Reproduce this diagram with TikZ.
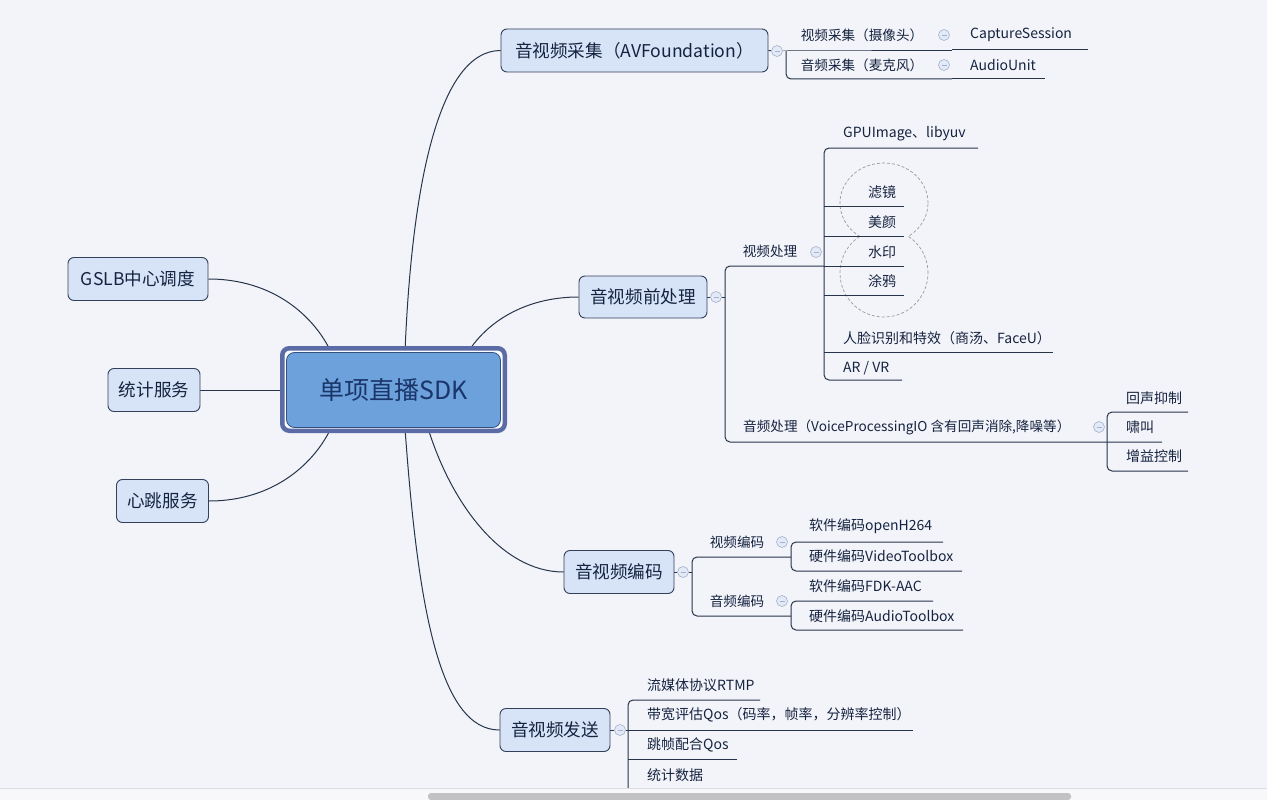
\documentclass[tikz,border=0pt]{standalone}
\usepackage{fontspec}
\setmainfont{Noto Sans CJK SC}
\definecolor{bg}{HTML}{F3F4F9}
\definecolor{boxfill}{HTML}{D7E3F7}
\definecolor{boxdraw}{HTML}{33405A}
\definecolor{txt}{HTML}{152340}
\definecolor{ctxt}{HTML}{1A356A}
\definecolor{linec}{HTML}{26354A}
\definecolor{btnfill}{HTML}{E3E9F6}
\definecolor{btndraw}{HTML}{A3B2CE}
\definecolor{cfill}{HTML}{6DA1DC}
\definecolor{cdraw}{HTML}{34507E}
\definecolor{cring}{HTML}{5B6BA6}
\definecolor{bound}{HTML}{9A9A9A}
\definecolor{strip}{HTML}{F8F8FA}
\definecolor{stripline}{HTML}{DDDDE3}
\definecolor{scroll}{HTML}{C2C2C4}
\pgfdeclarelayer{back}
\pgfsetlayers{back,main}
\begin{document}
\begin{tikzpicture}[x=1pt,y=-1pt,
 topic/.style={draw=boxdraw, fill=boxfill, rounded corners=6pt, line width=0.9pt, inner sep=0pt, text=txt, font=\fontsize{17.6}{20}\selectfont},
 subt/.style={inner sep=0pt, text=txt, font=\fontsize{13.6}{16}\selectfont},
 leaf/.style={inner sep=0pt, text=txt, font=\fontsize{14}{17}\selectfont, anchor=west},
 conn/.style={draw=linec, line width=1pt},
 brk/.style={draw=linec, line width=1pt, rounded corners=5pt},
 btn/.style={circle, draw=btndraw, fill=btnfill, line width=0.6pt, minimum size=11pt, inner sep=0pt,
   path picture={\draw[btndraw, line width=0.8pt] ([xshift=-2.5pt]path picture bounding box.center) -- ([xshift=2.5pt]path picture bounding box.center);}},
 boundary/.style={draw=bound, line width=0.7pt, dash pattern=on 3pt off 2pt},
]
\useasboundingbox (0,0) rectangle (1267,800);

% ---------- central node ----------
\node[draw=cring, line width=4.5pt, rounded corners=7pt, fill=white!60!bg, minimum width=222.5pt, minimum height=82.5pt, inner sep=0pt] (cring) at (393.5,389.5) {};
\node[draw=cdraw, fill=cfill, line width=0.8pt, rounded corners=8pt, minimum width=214pt, minimum height=75pt, inner sep=0pt, text=ctxt, font=\fontsize{25}{30}\selectfont] (c) at (393.5,390) {单项直播SDK};

% ---------- left topics ----------
\node[topic, minimum width=140pt, minimum height=43pt] (gslb) at (138,279) {GSLB中心调度};
\node[topic, minimum width=92pt, minimum height=43pt] (tj) at (154,390) {统计服务};
\node[topic, minimum width=92pt, minimum height=43pt] (xt) at (162.5,501) {心跳服务};

% ---------- right topics ----------
\node[topic, minimum width=267pt, minimum height=43pt] (cj) at (634.5,50.5) {音视频采集（AVFoundation）};
\node[topic, minimum width=128pt, minimum height=42pt] (qcl) at (643,297) {音视频前处理};
\node[topic, minimum width=110pt, minimum height=43pt] (bm) at (619,572) {音视频编码};
\node[topic, minimum width=110pt, minimum height=43pt] (fs) at (555,730) {音视频发送};

% ---------- buttons ----------
\node[btn] (bcj) at (777,51) {};
\node[btn] (bqcl) at (716,297) {};
\node[btn] (bbm) at (683,572) {};
\node[btn] (bfs) at (620,730) {};
\node[btn] (bsp) at (944,35) {};
\node[btn] (byp) at (944,65) {};
\node[btn] (bspcl) at (816,252) {};
\node[btn] (bypcl) at (1099,427) {};
\node[btn] (bspbm) at (782,542) {};
\node[btn] (bypbm) at (782,601) {};

% ---------- 采集 ----------
\node[subt] (sp) at (862,35) {视频采集（摄像头）};
\node[subt] (yp) at (862,65) {音频采集（麦克风）};
\node[leaf] (cs) at (970,35) {CaptureSession};
\node[leaf] (au) at (970,65) {AudioUnit};

% ---------- 前处理 ----------
\node[subt] (spcl) at (770,251) {视频处理};
\node[leaf] (gpu) at (843,134) {GPUImage、libyuv};
\node[leaf, anchor=center] (lj) at (882,192) {滤镜};
\node[leaf, anchor=center] (my) at (882,222) {美颜};
\node[leaf, anchor=center] (sy) at (882,252) {水印};
\node[leaf, anchor=center] (ty) at (882,281) {涂鸦};
\node[leaf] (rl) at (843,338) {人脸识别和特效（商汤、FaceU）};
\node[leaf] (ar) at (843,368) {AR / VR};
\node[subt, anchor=west] (ypcl) at (743,427) {音频处理（VoiceProcessingIO 含有回声消除,降噪等）};
\node[leaf] (hs) at (1126,398) {回声抑制};
\node[leaf] (xj) at (1126,427) {啸叫};
\node[leaf] (zy) at (1126,456) {增益控制};

% ---------- 编码 ----------
\node[subt] (spbm) at (737,542) {视频编码};
\node[subt] (ypbm) at (737,601) {音频编码};
\node[leaf] (rj1) at (809,526) {软件编码openH264};
\node[leaf] (yj1) at (809,556) {硬件编码VideoToolbox};
\node[leaf] (rj2) at (809,586) {软件编码FDK-AAC};
\node[leaf] (yj2) at (809,616) {硬件编码AudioToolbox};

% ---------- 发送 ----------
\node[leaf] (rtmp) at (647,685) {流媒体协议RTMP};
\node[leaf] (qos) at (647,715) {带宽评估Qos（码率，帧率，分辨率控制）};
\node[leaf] (tz) at (647,745) {跳帧配合Qos};
\node[leaf] (tjsj) at (647,775) {统计数据};

% ---------- lines (behind) ----------
\begin{pgfonlayer}{back}
\fill[bg] (0,0) rectangle (1267,800);
% boundary of 滤镜 .. 涂鸦
\begin{scope}[even odd rule]
\clip (780,100) rectangle (1000,400) (884,273) ellipse [x radius=44pt, y radius=44pt];
\draw[boundary] (884,203) ellipse [x radius=44pt, y radius=40pt];
\end{scope}
\begin{scope}[even odd rule]
\clip (780,100) rectangle (1000,400) (884,203) ellipse [x radius=44pt, y radius=40pt];
\draw[boundary] (884,273) ellipse [x radius=44pt, y radius=44pt];
\end{scope}
% main connectors
\draw[conn] (gslb.east) .. controls (275,279) and (315,318) .. (331,352);
\draw[conn] (tj.east) -- (c.west);
\draw[conn] (xt.east) .. controls (275,501) and (315,462) .. (331,428);
\draw[conn] (405,352) .. controls (412,180) and (440,50.5) .. (cj.west);
\draw[conn] (468,352) .. controls (490,318) and (530,297) .. (qcl.west);
\draw[conn] (428,428) .. controls (450,500) and (500,572) .. (bm.west);
\draw[conn] (405,428) .. controls (418,610) and (440,730) .. (fs.west);
% to buttons
\draw[conn] (cj.east) -- (bcj);
\draw[conn] (qcl.east) -- (bqcl);
\draw[conn] (bm.east) -- (bbm);
\draw[conn] (fs.east) -- (bfs);
% 采集
\draw[conn] (bcj) -- (786,51) -- (952,51);
\draw[brk] (786,51) -- (786,79) -- (952,79);
\draw[conn] (952,50) -- (1088,50);
\draw[conn] (952,78.5) -- (1045,78.5);
% 前处理
\draw[conn] (bqcl) -- (725,297);
\draw[brk] (824,266) -- (725,266) -- (725,442) -- (1162,442);
\draw[brk] (978,148) -- (824,148) -- (824,380) -- (902,380);
\draw[conn] (824,206) -- (904,206);
\draw[conn] (824,236) -- (904,236);
\draw[conn] (824,266) -- (904,266);
\draw[conn] (824,295) -- (904,295);
\draw[conn] (824,352) -- (1053,352);
\draw[brk] (1188,412) -- (1107,412) -- (1107,471) -- (1188,471);
% 编码
\draw[conn] (bbm) -- (692,572);
\draw[brk] (791,557) -- (692,557) -- (692,616) -- (791,616);
\draw[brk] (943,542) -- (791,542) -- (791,571) -- (962,571);
\draw[brk] (933,601) -- (791,601) -- (791,630) -- (963,630);
% 发送
\draw[conn] (bfs) -- (628,730);
\draw[brk] (760,700) -- (628,700) -- (628,795);
\draw[conn] (628,730) -- (913,730);
\draw[conn] (628,759) -- (737,759);
\end{pgfonlayer}

% ---------- bottom strip and scrollbar ----------
\fill[strip] (0,788) rectangle (1267,800);
\draw[stripline, line width=0.8pt] (0,788) -- (1267,788);
\fill[scroll, rounded corners=3pt] (428,793) rectangle (1071,800);
\end{tikzpicture}
\end{document}
